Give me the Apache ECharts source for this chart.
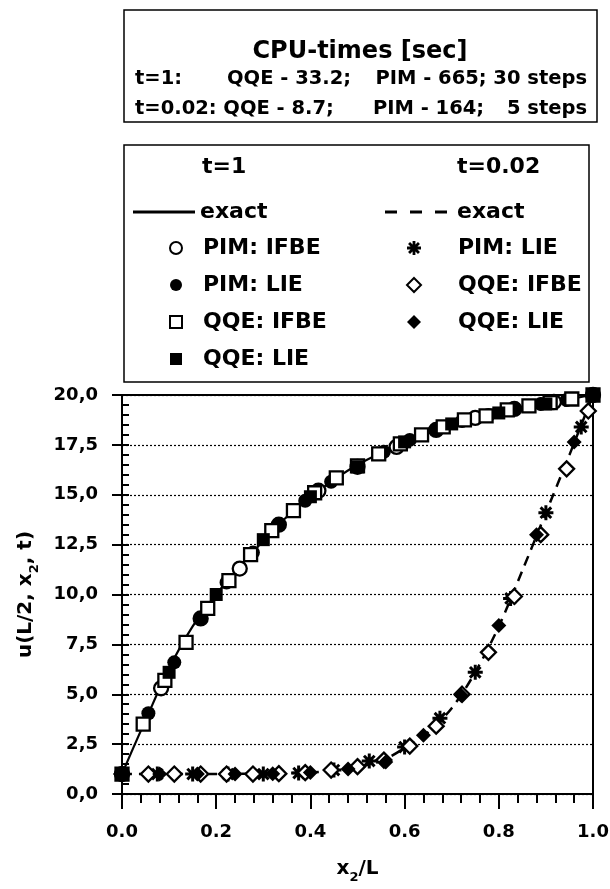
<!DOCTYPE html>
<html><head><meta charset="utf-8">
<script src="https://cdn.jsdelivr.net/npm/echarts/dist/echarts.min.js"></script>
<style>html,body{margin:0;padding:0;background:#fff}#c{width:610px;height:889px}</style>
</head><body><div id="c"></div>
<script>
// ---------- tick labels ----------
const xTickLabels = ['0.0', '0.2', '0.4', '0.6', '0.8', '1.0'];
const yTickLabels = ['0,0', '2,5', '5,0', '7,5', '10,0', '12,5', '15,0', '17,5', '20,0'];

// ---------- t = 1 ----------
const exactT1X = [0, 0.02, 0.05, 0.1, 0.15, 0.2, 0.25, 0.3, 0.35, 0.4, 0.45, 0.5, 0.55, 0.6, 0.65, 0.7, 0.75, 0.8, 0.85, 0.9, 0.95, 1.0];
const exactT1Y = [1.0, 2.1, 3.7, 6.3, 8.4, 10.0, 11.4, 12.7, 13.9, 14.9, 15.75, 16.5, 17.1, 17.65, 18.1, 18.5, 18.85, 19.1, 19.35, 19.55, 19.8, 20.0];

const pimIfbeT1X = [0, 0.083, 0.167, 0.25, 0.333, 0.417, 0.5, 0.583, 0.667, 0.75, 0.833, 0.917, 1.0];
const pimIfbeT1Y = [1.0, 5.3, 8.8, 11.3, 13.5, 15.2, 16.4, 17.4, 18.25, 18.85, 19.3, 19.65, 20.0];

const pimLieT1X = [0, 0.056, 0.111, 0.167, 0.222, 0.278, 0.333, 0.389, 0.444, 0.5, 0.556, 0.611, 0.667, 0.722, 0.778, 0.833, 0.889, 0.944, 1.0];
const pimLieT1Y = [1.0, 4.05, 6.6, 8.8, 10.6, 12.1, 13.5, 14.7, 15.65, 16.4, 17.15, 17.75, 18.25, 18.7, 19.0, 19.3, 19.55, 19.75, 20.0];

const qqeIfbeT1X = [0, 0.045, 0.091, 0.136, 0.182, 0.227, 0.273, 0.318, 0.364, 0.409, 0.455, 0.5, 0.545, 0.591, 0.636, 0.682, 0.727, 0.773, 0.818, 0.864, 0.909, 0.955, 1.0];
const qqeIfbeT1Y = [1.0, 3.5, 5.7, 7.6, 9.3, 10.7, 12.0, 13.2, 14.2, 15.1, 15.85, 16.45, 17.05, 17.55, 18.0, 18.4, 18.75, 18.95, 19.25, 19.45, 19.62, 19.8, 20.0];

const qqeLieT1X = [0, 0.1, 0.2, 0.3, 0.4, 0.5, 0.6, 0.7, 0.8, 0.9, 1.0];
const qqeLieT1Y = [1.0, 6.1, 10.0, 12.75, 14.9, 16.4, 17.65, 18.55, 19.1, 19.55, 20.0];

// ---------- t = 0.02 ----------
const exactT02X = [0, 0.3, 0.4, 0.45, 0.5, 0.55, 0.6, 0.65, 0.7, 0.75, 0.8, 0.85, 0.9, 0.95, 1.0];
const exactT02Y = [1.0, 1.02, 1.08, 1.18, 1.35, 1.65, 2.3, 3.1, 4.3, 6.1, 8.4, 11.2, 14.1, 17.0, 20.0];

const pimLieT02X = [0, 0.075, 0.15, 0.225, 0.3, 0.375, 0.45, 0.525, 0.6, 0.675, 0.75, 0.825, 0.9, 0.975, 1.0];
const pimLieT02Y = [1.0, 1.0, 1.0, 1.0, 1.0, 1.05, 1.2, 1.65, 2.35, 3.8, 6.1, 9.8, 14.1, 18.4, 20.0];

const qqeIfbeT02X = [0, 0.056, 0.111, 0.167, 0.222, 0.278, 0.333, 0.389, 0.444, 0.5, 0.556, 0.611, 0.667, 0.722, 0.778, 0.833, 0.889, 0.944, 0.99];
const qqeIfbeT02Y = [1.0, 1.0, 1.0, 1.0, 1.0, 1.0, 1.02, 1.07, 1.2, 1.37, 1.7, 2.4, 3.4, 5.0, 7.1, 9.9, 13.0, 16.3, 19.2];

const qqeLieT02X = [0, 0.08, 0.16, 0.24, 0.32, 0.4, 0.48, 0.56, 0.64, 0.72, 0.8, 0.88, 0.96, 1.0];
const qqeLieT02Y = [1.0, 1.0, 1.0, 1.0, 1.02, 1.08, 1.25, 1.6, 2.95, 4.95, 8.45, 13.0, 17.65, 20.0];

// ---------- helpers ----------
const zip = (xs, ys) => xs.map((x, i) => [x, ys[i]]);
const FONT = 'DejaVu Sans';
const ASTERISK = 'path://M0 8L20 8L20 12L0 12Z M8 0L12 0L12 20L8 20Z ' +
  'M4.34 1.51L18.49 15.66L15.66 18.49L1.51 4.34Z M15.66 1.51L18.49 4.34L4.34 18.49L1.51 15.66Z';
const SOLID_ICON = 'path://M0 0L62 0L62 3L0 3Z';
const DASH_ICON = 'path://M0 0L12 0L12 3L0 3Z M25 0L37 0L37 3L25 3Z M50 0L62 0L62 3L50 3Z';

const openStyle = { color: '#fff', borderColor: '#000', borderWidth: 2.3, opacity: 1 };
const fillStyle = { color: '#000', borderColor: '#000', borderWidth: 0, opacity: 1 };

function scatter(name, xs, ys, symbol, size, style) {
  return { name, type: 'scatter', data: zip(xs, ys), symbol, symbolSize: size, symbolKeepAspect: true,
           itemStyle: style, clip: false, z: 3, emphasis: { disabled: true } };
}

const chart = echarts.init(document.getElementById('c'), null, { renderer: 'canvas' });

const legendText = (padLeft) => ({ fontFamily: FONT, fontWeight: 'bold', fontSize: 22, color: '#000',
                                   lineHeight: 24, padding: [0, 0, 0, padLeft] });
const legendBase = {
  orient: 'vertical', padding: 0, itemGap: 13, selectedMode: false,
  formatter: n => n.replace(/^t=\S+ /, '')
};
const li = (name, icon) => ({ name, icon });

chart.setOption({
  animation: false,
  backgroundColor: '#fff',
  grid: { left: 122, right: 17, top: 395, bottom: 95, show: true, borderColor: '#000', borderWidth: 2,
          outerBoundsMode: 'none', containLabel: false },
  xAxis: {
    type: 'value', min: 0, max: 1, interval: 0.2,
    name: '{n|x}{s|2}{n|/L}', nameLocation: 'middle', nameGap: 60,
    nameTextStyle: { rich: {
      n: { fontFamily: FONT, fontWeight: 'bold', fontSize: 20, color: '#000', lineHeight: 30, verticalAlign: 'middle' },
      s: { fontFamily: FONT, fontWeight: 'bold', fontSize: 13, color: '#000', lineHeight: 13, verticalAlign: 'bottom' } } },
    axisLine: { show: true, onZero: false, lineStyle: { color: '#000', width: 2 } },
    axisTick: { show: true, inside: false, length: 15, lineStyle: { color: '#000', width: 2 } },
    minorTick: { show: true, splitNumber: 5, length: 9, lineStyle: { color: '#000', width: 2 } },
    axisLabel: { margin: 29, fontFamily: FONT, fontWeight: 'bold', fontSize: 18, color: '#000',
                 formatter: v => xTickLabels[Math.round(v / 0.2)] },
    splitLine: { show: false }, minorSplitLine: { show: false }
  },
  yAxis: [{
    type: 'value', min: 0, max: 20, interval: 2.5,
    name: '{n|u(L/2, x}{s|2}{n|, t)}', nameLocation: 'middle', nameGap: 81, nameRotate: 90,
    nameTextStyle: { rich: {
      n: { fontFamily: FONT, fontWeight: 'bold', fontSize: 20, color: '#000', lineHeight: 30, verticalAlign: 'middle' },
      s: { fontFamily: FONT, fontWeight: 'bold', fontSize: 13, color: '#000', lineHeight: 13, verticalAlign: 'bottom' } } },
    axisLine: { show: true, onZero: false, lineStyle: { color: '#000', width: 2 } },
    axisTick: { show: true, inside: true, length: 7, lineStyle: { color: '#000', width: 2 } },
    minorTick: { show: true, splitNumber: 5, length: 7, lineStyle: { color: '#000', width: 2 } },
    axisLabel: { margin: 24, fontFamily: FONT, fontWeight: 'bold', fontSize: 18, color: '#000',
                 formatter: v => yTickLabels[Math.round(v / 2.5)] },
    splitLine: { show: true, lineStyle: { color: '#000', width: 1.2, type: [2, 2] } },
    minorSplitLine: { show: false }
  }, {
    type: 'value', min: 0, max: 20, interval: 2.5, position: 'left',
    axisLine: { show: false },
    axisTick: { show: true, inside: false, length: 10, lineStyle: { color: '#000', width: 2 } },
    axisLabel: { show: false }, splitLine: { show: false }
  }],
  legend: [
    Object.assign({}, legendBase, { left: 133, top: 200, itemWidth: 62, itemHeight: 14,
      textStyle: legendText(0), data: [li('t=1 exact', SOLID_ICON)] }),
    Object.assign({}, legendBase, { left: 169, top: 236, itemWidth: 12, itemHeight: 12,
      textStyle: legendText(16),
      data: [li('t=1 PIM: IFBE', 'circle'), li('t=1 PIM: LIE', 'circle'), li('t=1 QQE: IFBE', 'rect'), li('t=1 QQE: LIE', 'rect')] }),
    Object.assign({}, legendBase, { left: 385, top: 200, itemWidth: 62, itemHeight: 14,
      textStyle: legendText(5), data: [li('t=0.02 exact', DASH_ICON)] }),
    Object.assign({}, legendBase, { left: 406, top: 236, itemWidth: 14, itemHeight: 14,
      textStyle: legendText(32),
      data: [li('t=0.02 PIM: LIE', ASTERISK), li('t=0.02 QQE: IFBE', 'diamond'), li('t=0.02 QQE: LIE', 'diamond')] })
  ],
  graphic: [
    { type: 'rect', shape: { x: 124, y: 10, width: 473, height: 112 }, style: { fill: 'none', stroke: '#000', lineWidth: 1.5 } },
    { type: 'rect', shape: { x: 124, y: 145, width: 465, height: 237 }, style: { fill: 'none', stroke: '#000', lineWidth: 1.5 } },
    { type: 'text', x: 360, y: 52, style: { text: 'CPU-times [sec]', fontFamily: FONT, fontWeight: 'bold', fontSize: 24, fill: '#000', align: 'center', verticalAlign: 'middle' } },
    { type: 'text', x: 135, y: 79, style: { text: 't=1:', fontFamily: FONT, fontWeight: 'bold', fontSize: 19.5, fill: '#000', align: 'left', verticalAlign: 'middle' } },
    { type: 'text', x: 227, y: 79, style: { text: 'QQE - 33.2;', fontFamily: FONT, fontWeight: 'bold', fontSize: 19.5, fill: '#000', align: 'left', verticalAlign: 'middle' } },
    { type: 'text', x: 587, y: 79, style: { text: 'PIM - 665; 30 steps', fontFamily: FONT, fontWeight: 'bold', fontSize: 19.5, fill: '#000', align: 'right', verticalAlign: 'middle' } },
    { type: 'text', x: 135, y: 109, style: { text: 't=0.02: QQE - 8.7;', fontFamily: FONT, fontWeight: 'bold', fontSize: 19.5, fill: '#000', align: 'left', verticalAlign: 'middle' } },
    { type: 'text', x: 373, y: 109, style: { text: 'PIM - 164;', fontFamily: FONT, fontWeight: 'bold', fontSize: 19.5, fill: '#000', align: 'left', verticalAlign: 'middle' } },
    { type: 'text', x: 587, y: 109, style: { text: '5 steps', fontFamily: FONT, fontWeight: 'bold', fontSize: 19.5, fill: '#000', align: 'right', verticalAlign: 'middle' } },
    { type: 'text', x: 202, y: 167, style: { text: 't=1', fontFamily: FONT, fontWeight: 'bold', fontSize: 22, fill: '#000', align: 'left', verticalAlign: 'middle' } },
    { type: 'text', x: 457, y: 167, style: { text: 't=0.02', fontFamily: FONT, fontWeight: 'bold', fontSize: 22, fill: '#000', align: 'left', verticalAlign: 'middle' } }
  ],
  series: [
    { name: 't=1 exact', type: 'line', data: zip(exactT1X, exactT1Y), symbol: 'none', smooth: 0.3,
      lineStyle: { color: '#000', width: 2.2, type: 'solid' }, itemStyle: { color: '#000' }, z: 2, emphasis: { disabled: true } },
    { name: 't=0.02 exact', type: 'line', data: zip(exactT02X, exactT02Y), symbol: 'none', smooth: 0.3,
      lineStyle: { color: '#000', width: 2.5, type: [10, 7] }, itemStyle: { color: '#000' }, z: 2, emphasis: { disabled: true } },
    scatter('t=1 PIM: IFBE', pimIfbeT1X, pimIfbeT1Y, 'circle', 14, openStyle),
    scatter('t=1 PIM: LIE', pimLieT1X, pimLieT1Y, 'circle', 14, fillStyle),
    scatter('t=1 QQE: IFBE', qqeIfbeT1X, qqeIfbeT1Y, 'rect', 13, openStyle),
    scatter('t=1 QQE: LIE', qqeLieT1X, qqeLieT1Y, 'rect', 13, fillStyle),
    scatter('t=0.02 PIM: LIE', pimLieT02X, pimLieT02Y, ASTERISK, 15, fillStyle),
    scatter('t=0.02 QQE: IFBE', qqeIfbeT02X, qqeIfbeT02Y, 'diamond', 15, openStyle),
    scatter('t=0.02 QQE: LIE', qqeLieT02X, qqeLieT02Y, 'diamond', 15, fillStyle)
  ]
});
</script>
</body></html>
